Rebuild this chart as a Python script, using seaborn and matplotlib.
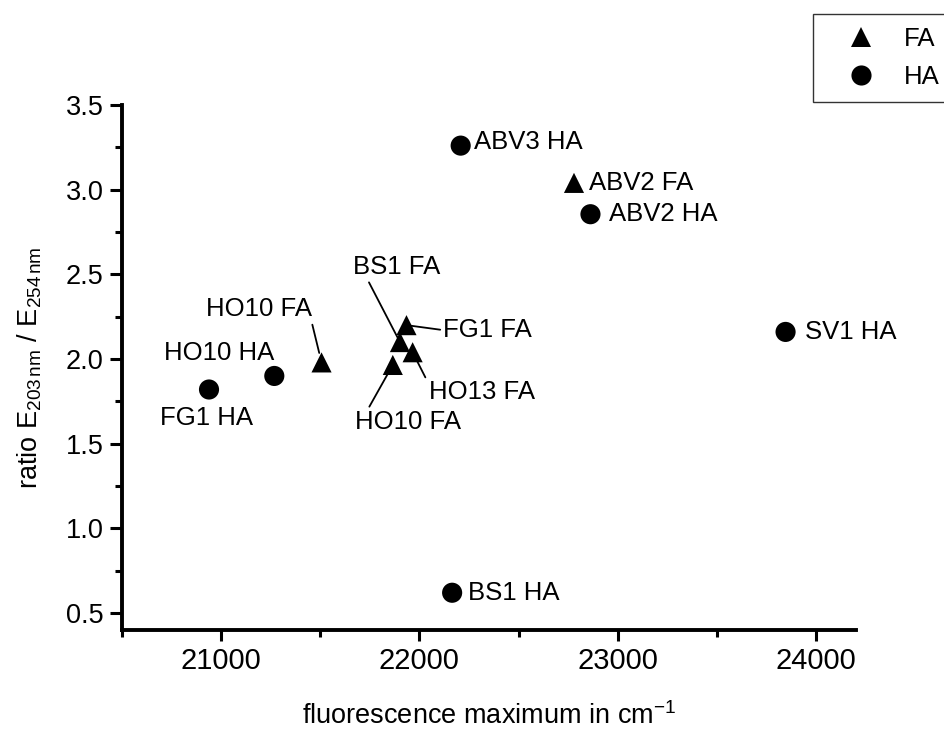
import pandas as pd
import matplotlib
matplotlib.use("Agg")
import matplotlib.pyplot as plt
import seaborn as sns

# values
sample = ["FG1 HA", "HO10 HA", "HO10 FA", "HO10 FA", "BS1 FA", "FG1 FA",
          "HO13 FA", "ABV3 HA", "ABV2 FA", "ABV2 HA", "SV1 HA", "BS1 HA"]
kind = ["HA", "HA", "FA", "FA", "FA", "FA", "FA", "HA", "FA", "HA", "HA", "HA"]
fl_max = [20940, 21269, 21507, 21866, 21902, 21935, 21966, 22208, 22779, 22862, 23845, 22165]
ratio = [1.82, 1.90, 1.98, 1.965, 2.10, 2.20, 2.04, 3.26, 3.04, 2.855, 2.16, 0.62]

x_ticks = [21000, 22000, 23000, 24000]
y_ticks = [0.5, 1.0, 1.5, 2.0, 2.5, 3.0, 3.5]

Data = pd.DataFrame({"sample": sample, "kind": kind, "x": fl_max, "y": ratio})

sns.set_theme(style="ticks")
plt.rcParams["font.family"] = ["Liberation Sans", "DejaVu Sans"]
plt.rcParams["mathtext.fontset"] = "custom"
plt.rcParams["mathtext.rm"] = "Liberation Sans"
plt.rcParams["mathtext.it"] = "Liberation Sans:italic"
plt.rcParams["text.color"] = "black"
plt.rcParams["axes.labelcolor"] = "black"
plt.rcParams["xtick.color"] = "black"
plt.rcParams["ytick.color"] = "black"

fig = plt.figure(figsize=(9.44, 7.29), dpi=100)
ax = fig.add_axes([0.1289, 0.1358, 0.7779, 0.7202])

sns.scatterplot(data=Data, x="x", y="y", style="kind", style_order=["FA", "HA"],
                markers={"FA": "^", "HA": "o"}, color="black", s=210,
                linewidth=0, ax=ax)

# label placement: offset in pixels (right, up), alignment, leader line
px = 0.72
lab = {
    0: ((-3, -28), "center", None, 0),
    1: ((-55, 23), "center", None, 0),
    2: ((-63, 53), "center", (1.0, 0.0), 7),
    3: ((15, -57), "center", (0.12, 1.0), 3),
    4: ((-3, 75), "center", (0.16, 0.0), 2),
    5: ((37, -5), "left", (0.0, 0.5), 2),
    6: ((16, -40), "left", (0.0, 0.85), 5),
    7: ((13, 4), "left", None, 0),
    8: ((15, 0), "left", None, 0),
    9: ((19, 0), "left", None, 0),
    10: ((19, 0), "left", None, 0),
    11: ((16, 0), "left", None, 0),
}
for i, row in Data.iterrows():
    (dx, dy), ha, rel, shr = lab[i]
    kw = {}
    if rel is not None:
        kw["arrowprops"] = dict(arrowstyle="-", color="black", lw=1.3,
                                relpos=rel, shrinkA=0, shrinkB=shr)
    ax.annotate(row["sample"], (row["x"], row["y"]), xytext=(dx * px, dy * px),
                textcoords="offset points", ha=ha, va="center", fontsize=18.5,
                color="black", **kw)

ax.set_xlim(20500, 24200)
ax.set_ylim(0.4, 3.5)
ax.set_xticks(x_ticks)
ax.set_yticks(y_ticks)
ax.set_xticks([20500, 21500, 22500, 23500], minor=True)
ax.set_yticks([0.75, 1.25, 1.75, 2.25, 2.75, 3.25], minor=True)
ax.set_yticklabels(["%.1f" % v for v in y_ticks])
ax.tick_params(axis="x", which="major", length=8, width=2.2, labelsize=21, pad=4)
ax.tick_params(axis="y", which="major", length=9, width=2.2, labelsize=19.5, pad=4)
ax.tick_params(which="minor", length=5, width=2.2)

sns.despine(ax=ax)
for s in ["left", "bottom"]:
    ax.spines[s].set_linewidth(2.8)
    ax.spines[s].set_color("black")

ax.set_xlabel(r"fluorescence maximum in cm$^{\mathrm{-1}}$", fontsize=19.5, labelpad=20)
ax.set_ylabel(r"ratio E$_{\mathrm{203\,nm}}$ / E$_{\mathrm{254\,nm}}$", fontsize=19.5, labelpad=16)

sns.move_legend(ax, "upper left", bbox_to_anchor=(813 / 944, 1 - 14 / 729),
                bbox_transform=fig.transFigure, title=None, frameon=True,
                fontsize=18.5, borderpad=0.5, handlelength=2.75, handletextpad=0.3,
                labelspacing=0.55, borderaxespad=0, fancybox=False)
leg = ax.get_legend()
leg.get_frame().set_edgecolor("black")
leg.get_frame().set_linewidth(1.0)

fig.savefig("out.png", dpi=100)
